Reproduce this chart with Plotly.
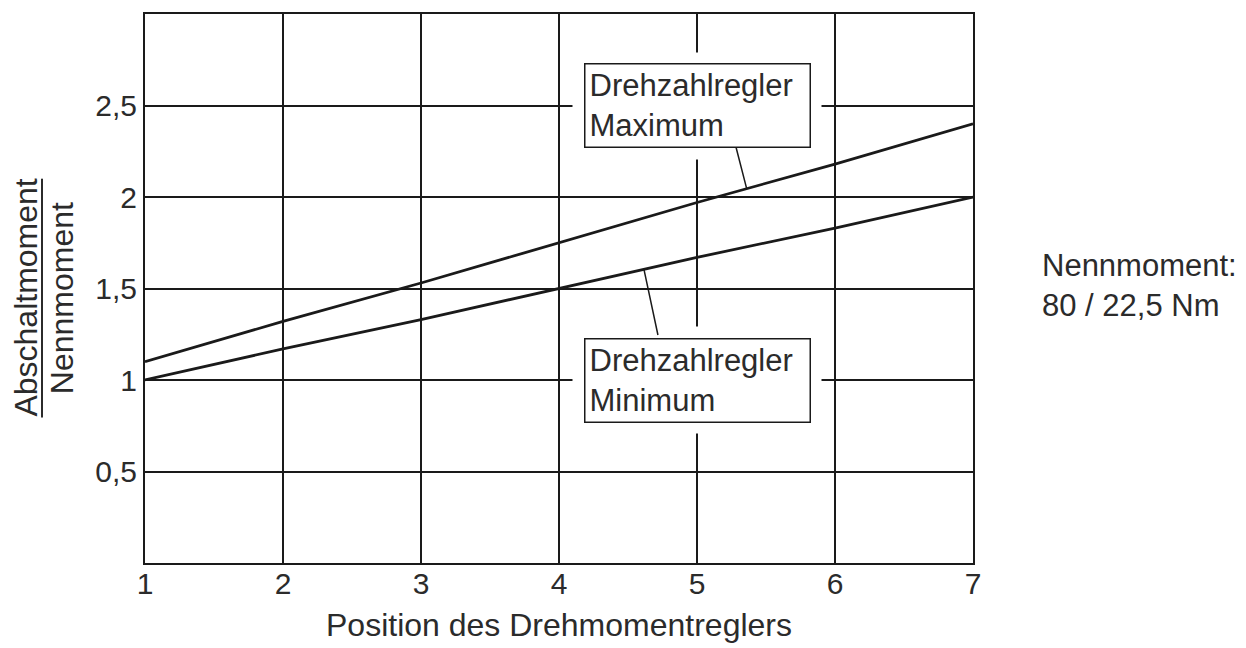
import plotly.graph_objects as go

# Position des Drehmomentreglers (x) and ratio Abschaltmoment / Nennmoment (y)
positions = [1, 2, 3, 4, 5, 6, 7]
ratio_max = [1.10, 1.32, 1.53, 1.75, 1.97, 2.18, 2.40]
ratio_min = [1.00, 1.17, 1.33, 1.50, 1.67, 1.83, 2.00]

y_tickvals = [0.5, 1, 1.5, 2, 2.5]
y_ticktext = ["0,5", "1", "1,5", "2", "2,5"]

label_max = "Drehzahlregler<br>Maximum"
label_min = "Drehzahlregler<br>Minimum"
note_text = "Nennmoment:<br>80 / 22,5 Nm"

FONT = "Liberation Sans, Arial, sans-serif"
INK = "#1a1a1a"
TEXT = "#2b2b2b"

fig = go.Figure()
fig.add_trace(go.Scatter(x=positions, y=ratio_max, mode="lines",
                         line=dict(color=INK, width=2.8), hoverinfo="skip"))
fig.add_trace(go.Scatter(x=positions, y=ratio_min, mode="lines",
                         line=dict(color=INK, width=2.8), hoverinfo="skip"))

axis_common = dict(showline=True, linecolor=INK, linewidth=2, mirror=True,
                   showgrid=True, gridcolor=INK, gridwidth=2, zeroline=False,
                   ticks="", tickfont=dict(family=FONT, size=30, color=TEXT))
fig.update_xaxes(range=[1, 7], tickvals=positions, ticklabelstandoff=-7, **axis_common,
                 title=dict(text="Position des Drehmomentreglers",
                            font=dict(family=FONT, size=32, color=TEXT), standoff=15))
fig.update_yaxes(range=[0, 3], tickvals=y_tickvals, ticktext=y_ticktext, **axis_common)

annotations = []
# labelled boxes: white halo first, then the framed box, then the leader line
for label, cx, cy, tail, head in [
    (label_max, 5, 2.5, (5.28, 2.28), (5.36, 2.046)),
    (label_min, 5, 1.0, (4.72, 1.235), (4.616, 1.603)),
]:
    annotations.append(dict(x=cx, y=cy, xref="x", yref="y", text=label, showarrow=False,
                            font=dict(family=FONT, size=31, color="rgba(0,0,0,0)"),
                            bgcolor="white", borderpad=16, width=216, height=74,
                            align="left"))
    annotations.append(dict(x=cx, y=cy, xref="x", yref="y", text=label, showarrow=False,
                            font=dict(family=FONT, size=31, color=TEXT),
                            bgcolor="white", bordercolor=INK, borderwidth=1.5,
                            borderpad=4, width=216, height=74, align="left"))
    annotations.append(dict(x=head[0], y=head[1], xref="x", yref="y",
                            ax=tail[0], ay=tail[1], axref="x", ayref="y",
                            text=" ", showarrow=True, arrowhead=0, arrowwidth=1.5,
                            arrowcolor=INK, font=dict(size=1)))

# y-axis title drawn as a fraction
annotations.append(dict(x=-0.144, y=0.483, xref="paper", yref="paper", text="Abschaltmoment",
                        textangle=-90, showarrow=False, xanchor="center", yanchor="middle",
                        font=dict(family=FONT, size=32, color=TEXT)))
annotations.append(dict(x=-0.101, y=0.483, xref="paper", yref="paper", text="Nennmoment",
                        textangle=-90, showarrow=False, xanchor="center", yanchor="middle",
                        font=dict(family=FONT, size=32, color=TEXT)))
annotations.append(dict(x=1.081, y=0.505, xref="paper", yref="paper", text=note_text,
                        showarrow=False, xanchor="left", yanchor="middle", align="left",
                        font=dict(family=FONT, size=31, color=TEXT)))

fig.add_shape(type="line", xref="paper", yref="paper", x0=-0.1244, x1=-0.1244,
              y0=0.265, y1=0.700, line=dict(color=TEXT, width=2))

fig.update_layout(width=1246, height=648, margin=dict(l=137, r=281, t=4, b=93),
                  plot_bgcolor="white", paper_bgcolor="white", showlegend=False,
                  annotations=annotations)

fig.write_html("out.html")
